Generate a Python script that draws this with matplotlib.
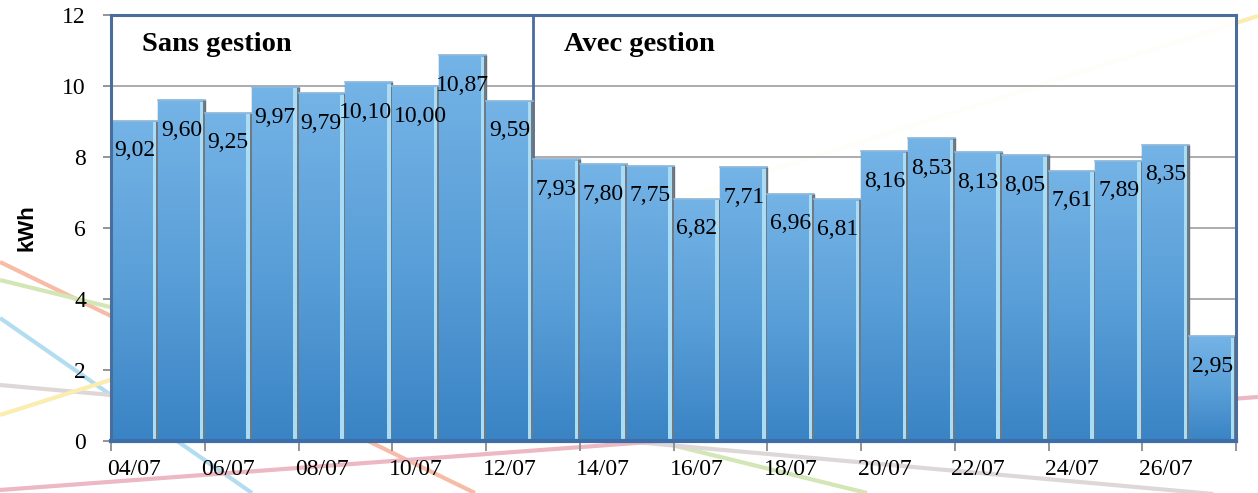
import matplotlib
matplotlib.use("Agg")
import matplotlib.pyplot as plt
import numpy as np
from matplotlib.lines import Line2D
from matplotlib.colors import LinearSegmentedColormap

# ---- data ----
dates = ["04/07", "05/07", "06/07", "07/07", "08/07", "09/07", "10/07", "11/07",
         "12/07", "13/07", "14/07", "15/07", "16/07", "17/07", "18/07", "19/07",
         "20/07", "21/07", "22/07", "23/07", "24/07", "25/07", "26/07", "27/07"]
values = [9.02, 9.60, 9.25, 9.97, 9.79, 10.10, 10.00, 10.87, 9.59,
          7.93, 7.80, 7.75, 6.82, 7.71, 6.96, 6.81, 8.16, 8.53, 8.13, 8.05,
          7.61, 7.89, 8.35, 2.95]
sections = ["Sans gestion", "Avec gestion"]
section_start = [0, 9]
y_ticks = [0, 2, 4, 6, 8, 10, 12]

W, H = 1258, 493
fig = plt.figure(figsize=(W / 100, H / 100), dpi=100)
fig.patch.set_facecolor("white")

# decorative background lines (figure pixels, y from top)
deco = [((0, 262), (475, 493), "#f6bca8"),
        ((0, 280), (867, 493), "#d3e6b6"),
        ((0, 318), (252, 493), "#b2ddf1"),
        ((0, 385), (1258, 498), "#ded7d7"),
        ((0, 415), (1258, 16), "#fbecb0"),
        ((0, 490), (1258, 397), "#ecb8c3")]
for (x0, y0), (x1, y1), c in deco:
    fig.add_artist(Line2D([x0 / W, x1 / W], [1 - y0 / H, 1 - y1 / H],
                          transform=fig.transFigure, color=c, lw=3.0,
                          solid_capstyle="butt", zorder=0))

left, right, bottom, top = 111 / W, 1236 / W, 1 - 441 / H, 1 - 15 / H
ax = fig.add_axes([left, bottom, right - left, top - bottom])
ax.set_zorder(1)
ax.patch.set_facecolor("white")
ax.patch.set_alpha(0.92)

n = len(values)
x = np.arange(n)

# gridlines
for yv in y_ticks[1:-1]:
    ax.axhline(yv, color="#a6a6a6", lw=1.3, zorder=1)

# section divider
ax.axvline(section_start[1] - 0.5, color="#4a6d9c", lw=2, zorder=1.5)

cmap = LinearSegmentedColormap.from_list("b", ["#3a84c5", "#5a9fd8", "#74b3e6"])
grad = np.linspace(0, 1, 64).reshape(-1, 1)
bars = ax.bar(x, values, width=1.0, color="#4f93d0", edgecolor="#66727e",
              lw=1.0, zorder=2)
for b in bars:
    bx, bw, bh = b.get_x(), b.get_width(), b.get_height()
    im = ax.imshow(grad, cmap=cmap, extent=[bx, bx + bw, 0, bh], origin="lower",
                   aspect="auto", zorder=2.1, interpolation="bilinear")
    im.set_clip_path(b)
    # right-edge highlight
    ax.bar(bx + bw - 0.11, bh - 0.08, width=0.08, bottom=0.04, align="edge",
           color="#a9ddf6", lw=0, zorder=2.2)
    ax.bar(bx + bw - 0.035, bh, width=0.035, align="edge",
           color="#6f7a85", lw=0, zorder=2.25)
    ax.plot([bx, bx + bw], [bh, bh], color="#8fb8dc", lw=1.2, zorder=2.3)
ax.set_xlim(-0.5, n - 0.5)
ax.set_ylim(0, 12)

serif = "Liberation Serif"
labels = []
for xi, v in zip(x, values):
    t = ax.annotate(f"{v:.2f}".replace(".", ","), (xi, v), xytext=(0, -30),
                    textcoords="offset pixels", ha="center", va="center",
                    fontsize=17, family=serif, color="black", zorder=4)
    labels.append(t)

for s, st in zip(sections, section_start):
    ax.text(st - 0.5 + 0.66, 11.18, s, fontsize=20.5, fontweight="bold",
            family=serif, ha="left", va="center", zorder=4)

# spines
for sp in ["left", "right", "top"]:
    ax.spines[sp].set_color("#4a6d9c")
    ax.spines[sp].set_linewidth(2.2)
ax.spines["bottom"].set_color("#3d6ea8")
ax.spines["bottom"].set_linewidth(3)
for sp in ax.spines.values():
    sp.set_zorder(5)

ax.set_yticks(y_ticks)
ax.set_yticklabels([str(t) for t in y_ticks], family=serif, fontsize=17)
ax.tick_params(axis="y", length=6, width=1.3, color="#8c8c8c", pad=12)

ax.set_xticks(x[::2])
ax.set_xticklabels(dates[::2], family=serif, fontsize=17)
ax.set_xticks(np.arange(-0.5, n, 2), minor=True)
ax.tick_params(axis="x", which="major", length=0, pad=13)
ax.tick_params(axis="x", which="minor", length=7, width=1.3, color="#8c8c8c")

fig.text(27 / W, 1 - 228 / H, "kWh", rotation=90, fontsize=16, fontweight="bold",
         family="Liberation Sans", ha="center", va="center")

# nudge apart value labels that would touch horizontally
fig.canvas.draw()
r = fig.canvas.get_renderer()
shift = [0.0] * n
for i in range(n - 1):
    a = labels[i].get_window_extent(r)
    b = labels[i + 1].get_window_extent(r)
    if a.y0 < b.y1 and b.y0 < a.y1:
        ov = (a.x1 + shift[i]) - (b.x0 + shift[i + 1])
        if ov > -1:
            d = (ov + 2) / 2
            shift[i] -= d
            shift[i + 1] += d
for t, s in zip(labels, shift):
    t.xyann = (s, -30)

fig.savefig("out.png", dpi=100)
